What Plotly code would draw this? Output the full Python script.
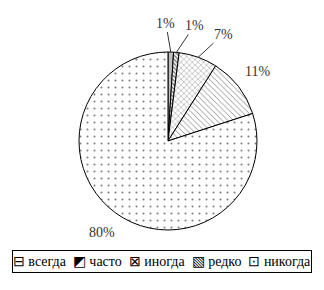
import math
import plotly.graph_objects as go

labels = ["всегда", "часто", "иногда", "редко", "никогда"]
values = [1, 1, 7, 11, 80]
text_labels = ["1%", "1%", "7%", "11%", "80%"]
legend_symbols = ["⊟", "◩", "⊠", "▧", "⊡"]

shapes = ["-", "\\", "x", "\\", "."]
sizes = [2, 3, 4, 4, 7]
solid = [0.6, 0.5, 0.2, 0.2, 0.07]

W, H = 324, 290
dom_x = [0.2438, 0.7932]
dom_y = [0.2069, 0.8207]

SERIF = "Liberation Serif, Times New Roman, serif"

fig = go.Figure(go.Pie(
    labels=labels, values=values,
    textinfo="none",
    sort=False, direction="clockwise", rotation=0,
    marker=dict(colors=["white"] * 5,
                line=dict(color="black", width=1),
                pattern=dict(shape=shapes, fgcolor="black", bgcolor="white",
                             size=sizes, solidity=solid, fillmode="overlay")),
    domain=dict(x=dom_x, y=dom_y),
    hoverinfo="skip",
    showlegend=False,
))

# pie geometry in pixels (derived from the domain)
cx = (dom_x[0] + dom_x[1]) / 2 * W
cy = (1 - (dom_y[0] + dom_y[1]) / 2) * H
R = min((dom_x[1] - dom_x[0]) * W, (dom_y[1] - dom_y[0]) * H) / 2

total = sum(values)
cum = 0
mids = []
for v in values:
    mids.append((cum + v / 2) / total * 2 * math.pi)
    cum += v

def px2paper(px, py):
    return px / W, 1 - py / H

# label offsets: leader-line labels for small slices, free labels for large ones
leader = [(-5, -29), (18, -27), (25, -23), None, None]
for i, t in enumerate(text_labels):
    a = mids[i]
    if leader[i] is not None:
        ex, ey = cx + R * math.sin(a), cy - R * math.cos(a)
        x, y = px2paper(ex, ey)
        fig.add_annotation(x=x, y=y, xref="paper", yref="paper", text=t,
                           showarrow=True, arrowhead=0, arrowwidth=0.8,
                           arrowcolor="black", ax=leader[i][0], ay=leader[i][1],
                           standoff=0,
                           font=dict(family=SERIF, size=14, color="#333"))
    else:
        rr = 1.27 * R
        lx, ly = cx + rr * math.sin(a), cy - rr * math.cos(a)
        x, y = px2paper(lx, ly)
        fig.add_annotation(x=x, y=y, xref="paper", yref="paper", text=t,
                           xanchor="center", yanchor="middle",
                           showarrow=False,
                           font=dict(family=SERIF, size=14, color="#333"))

legend_text = "  ".join(f"{s} {l}" for s, l in zip(legend_symbols, labels))
fig.add_annotation(x=162 / W, y=1 - 261 / H, xref="paper", yref="paper",
                   xanchor="center", yanchor="middle",
                   text=legend_text, showarrow=False,
                   bordercolor="black", borderwidth=1, borderpad=1,
                   width=296, height=19,
                   font=dict(family=SERIF, size=14, color="black"))

fig.update_layout(
    width=W, height=H, margin=dict(l=0, r=0, t=0, b=0),
    paper_bgcolor="white", plot_bgcolor="white",
    font=dict(family=SERIF, size=13, color="black"),
    showlegend=False,
)
fig.write_html("out.html")
